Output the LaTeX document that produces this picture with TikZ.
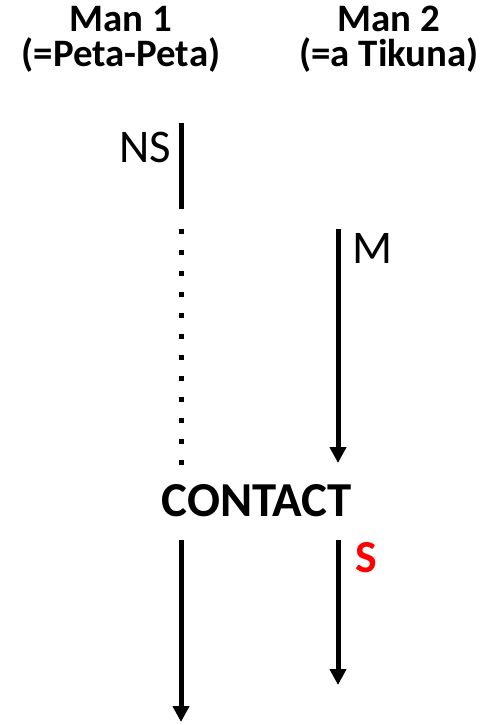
\documentclass[tikz,border=0pt]{standalone}
\usepackage{fontspec}
\setmainfont{Carlito}
\usepackage{tikz}
\usetikzlibrary{arrows.meta}

\begin{document}
\begin{tikzpicture}[x = 1bp, y = -1bp,
                    head/.style = {font = \fontsize{39}{40}\selectfont\bfseries, anchor = base, inner sep = 0pt},
                    tag/.style = {font = \fontsize{47}{50}\selectfont, inner sep = 0pt},
                    track/.style = {line width = 5bp},
                    arrow/.style = {line width = 5bp, -{Triangle[width = 16bp, length = 16bp]}}]
  \useasboundingbox (0,0) rectangle (485,725);
  \node [head] (Man1) at (121,32) {Man 1};
  \node [head] (Man1name) at (121,67) {(=Peta-Peta)};
  \node [head] (Man2) at (389,32) {Man 2};
  \node [head] (Man2name) at (389,67) {(=a Tikuna)};

  \node [tag, anchor = east] (NS) at (171,147) {NS};
  \node [tag, anchor = west] (M) at (352,248) {M};
  \node [font = \fontsize{49}{52}\selectfont\bfseries] (CONTACT) at (257,501) {CONTACT};
  \node [font = \fontsize{46}{50}\selectfont\bfseries, text = red, anchor = west, inner sep = 0pt] (S) at (355,558) {S};

  \coordinate (NStop) at (181,123);
  \coordinate (NSend) at (181,209);
  \coordinate (dotstart) at (181,229);
  \coordinate (dotend) at (181,466);
  \coordinate (Mtop) at (338,229);
  \coordinate (Mend) at (338,463);
  \coordinate (Ltop) at (181,540);
  \coordinate (Lend) at (181,722);
  \coordinate (Stop) at (338,540);
  \coordinate (Send) at (338,685);

  \draw [track] (NStop) -- (NSend);
  \draw [line width = 5bp, dash pattern = on 5bp off 16bp] (dotstart) -- (dotend);
  \draw [arrow] (Mtop) -- (Mend);
  \draw [arrow] (Ltop) -- (Lend);
  \draw [arrow] (Stop) -- (Send);
\end{tikzpicture}
\end{document}
